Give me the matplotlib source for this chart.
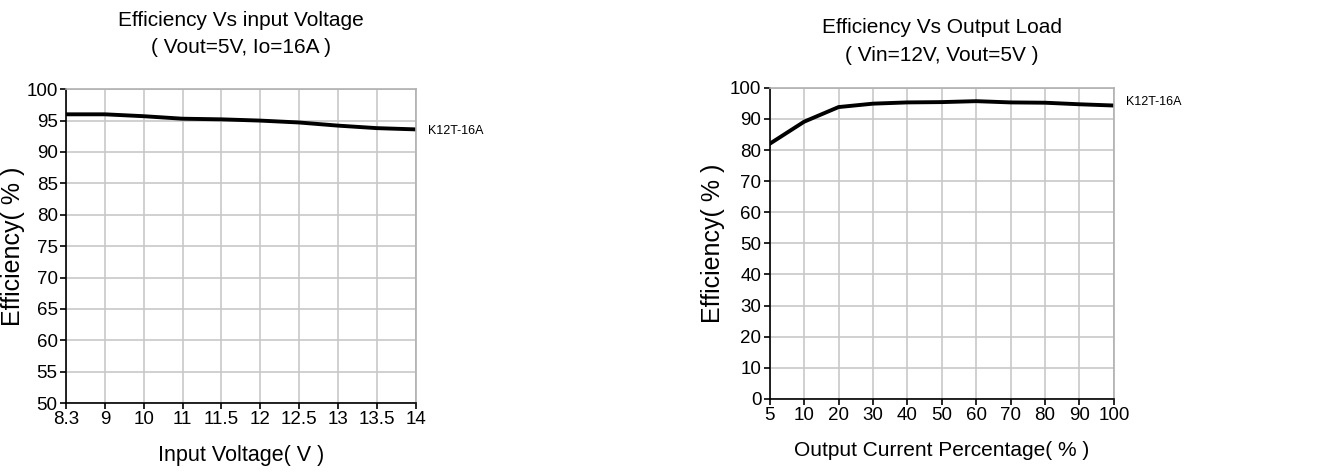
import matplotlib.pyplot as plt
import numpy as np

# data

volt_labels = ['8.3', '9', '10', '11', '11.5', '12', '12.5', '13', '13.5', '14']
eff_vs_volt = [96.0, 96.0, 95.7, 95.3, 95.2, 95.0, 94.7, 94.2, 93.8, 93.6]

load_labels = ['5', '10', '20', '30', '40', '50', '60', '70', '80', '90', '100']
eff_vs_load = [82.0, 89.1, 93.8, 94.9, 95.3, 95.4, 95.7, 95.3, 95.2, 94.7, 94.3]

series_name = 'K12T-16A'

plt.rcParams['font.family'] = ['Liberation Sans', 'DejaVu Sans']

fig = plt.figure(figsize=(13.34, 4.72), dpi=100)


def style(ax):
  ax.grid(True, color='#c8c8c8', linewidth=1.2)
  ax.set_axisbelow(True)
  for side in ['top', 'right']:
    ax.spines[side].set_color('#b0b0b0')
    ax.spines[side].set_linewidth(1.2)
  for side in ['left', 'bottom']:
    ax.spines[side].set_color('black')
    ax.spines[side].set_linewidth(1.2)
  ax.tick_params(direction='out', length=4, width=1.2, labelsize=13.5, pad=2)


# left chart: efficiency vs input voltage

ax1 = fig.add_axes([0.0495, 0.146, 0.262, 0.665])
x1 = np.arange(len(volt_labels))
ax1.plot(x1, eff_vs_volt, color='black', linewidth=2.8, solid_joinstyle='round')
ax1.set_xlim(0, len(volt_labels) - 1)
ax1.set_ylim(50, 100)
ax1.set_xticks(x1, labels=volt_labels)
ax1.set_yticks(np.arange(50, 101, 5))
style(ax1)
ax1.set_title('Efficiency Vs input Voltage\n( Vout=5V, Io=16A )',
  fontsize=15, pad=26, linespacing=1.55)
ax1.set_xlabel('Input Voltage( V )', fontsize=15.5)
ax1.xaxis.set_label_coords(0.5, -0.135)
ax1.set_ylabel('Efficiency( % )', fontsize=18)
ax1.yaxis.set_label_coords(-0.117, 0.5)
ax1.text(1.035, 93.3, series_name, transform=ax1.get_yaxis_transform(),
  fontsize=9, va='center', ha='left')

# right chart: efficiency vs output load

ax2 = fig.add_axes([0.577, 0.155, 0.258, 0.659])
x2 = np.arange(len(load_labels))
ax2.plot(x2, eff_vs_load, color='black', linewidth=2.8, solid_joinstyle='round')
ax2.set_xlim(0, len(load_labels) - 1)
ax2.set_ylim(0, 100)
ax2.set_xticks(x2, labels=load_labels)
ax2.set_yticks(np.arange(0, 101, 10))
style(ax2)
ax2.set_title('Efficiency Vs Output Load\n( Vin=12V, Vout=5V )',
  fontsize=15, pad=19, linespacing=1.65)
ax2.set_xlabel('Output Current Percentage( % )', fontsize=15)
ax2.xaxis.set_label_coords(0.5, -0.135)
ax2.set_ylabel('Efficiency( % )', fontsize=18)
ax2.yaxis.set_label_coords(-0.131, 0.5)
ax2.text(1.035, 95.5, series_name, transform=ax2.get_yaxis_transform(),
  fontsize=9, va='center', ha='left')

fig.savefig('out.png', dpi=100)
